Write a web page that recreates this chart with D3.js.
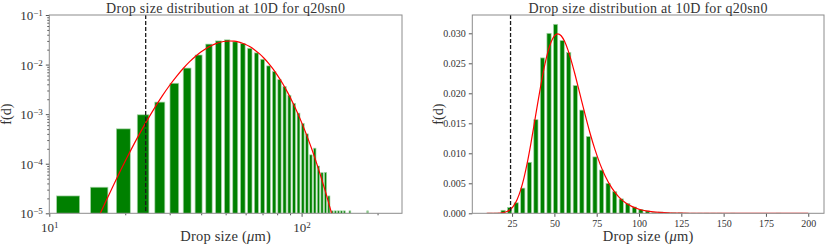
<!DOCTYPE html>
<html>
<head>
<meta charset="utf-8">
<script src="https://cdn.jsdelivr.net/npm/d3@7"></script>
<style>
  body { margin: 0; background: #fff; }
  text { font-family: "Liberation Serif", "Times New Roman", serif; fill: #333; }
  .frame { fill: none; stroke: #8c8c8c; stroke-width: 1; }
  .tick line { stroke: #555; }
</style>
</head>
<body>
<svg id="chart" width="830" height="250"></svg>
<script>
// histogram bins (centres, um) and normalised frequency f(d)
const binCenters = [
  11.94, 15.82, 19.69, 23.57, 27.45, 31.33, 35.20, 39.08, 42.96, 46.84,
  50.71, 54.59, 58.47, 62.35, 66.22, 70.10, 73.98, 77.86, 81.73, 85.61,
  89.49, 93.37, 97.24, 101.12, 105.00, 108.88, 112.76, 116.63, 120.51, 124.39,
  128.27, 132.14, 136.02, 139.90, 143.78, 147.65, 151.53, 155.41, 159.29, 163.16,
  167.04, 170.92, 174.80, 178.67, 182.55, 186.43, 190.31, 194.18, 198.06
];
const binFreq = [
  2.24e-5, 3.36e-5, 5.05e-4, 9.7e-4, 1.75e-3, 4.2e-3, 8.5e-3, 0.0156, 0.0259, 0.0300,
  0.0315, 0.0288, 0.0268, 0.0213, 0.0172, 0.0128, 0.0094, 0.0072, 0.0050, 0.0036,
  0.0024, 0.00165, 0.00105, 0.00065, 0.00040, 1.51e-4, 2.06e-4, 9.0e-5, 6.6e-5, 6.7e-5,
  2.24e-5, 1.12e-5, 1.12e-5, 1.12e-5, 1.12e-5, 1.12e-5, 0, 1.12e-5, 0, 0,
  0, 0, 0, 0, 1.12e-5, 0, 0, 0, 0
];

// fitted distribution
const fitSize = [
  10, 12, 14, 16, 18, 20, 22, 24, 26, 28, 30, 32, 34, 36, 38, 40, 42, 44, 46, 48,
  50, 52, 54, 56, 58, 60, 62, 65, 68, 71, 74, 77, 80, 84, 88, 92, 96, 100, 105, 110,
  115, 120, 125, 130, 135, 140, 150, 165, 180, 200
];
const fitFreq = [
  4.5e-8, 3.8e-7, 2.3e-6, 1.05e-5, 3.78e-5, 1.13e-4, 2.89e-4, 6.45e-4, 1.28e-3, 2.31e-3,
  3.83e-3, 5.87e-3, 8.44e-3, 0.01145, 0.01474, 0.01812, 0.02138, 0.02430, 0.02673, 0.02850,
  0.02957, 0.02992, 0.02959, 0.02866, 0.02723, 0.02541, 0.02334, 0.01998, 0.0166, 0.01343,
  0.01061, 8.20e-3, 6.22e-3, 4.19e-3, 2.75e-3, 1.76e-3, 1.107e-3, 6.83e-4, 3.65e-4, 1.91e-4,
  9.83e-5, 4.98e-5, 2.49e-5, 1.23e-5, 6.0e-6, 2.9e-6, 6.8e-7, 7.3e-8, 7.7e-9, 3.8e-10
];

const cutoffSize = 24.1;
const barWidth = 2.5;
const titleText = 'Drop size distribution at 10D for q20sn0';

const logYTicks = [1e-5, 1e-4, 1e-3, 1e-2, 1e-1];
const logYLabels = ['\u22125', '\u22124', '\u22123', '\u22122', '\u22121'];
const logXTicks = [10, 100];
const logXLabels = ['1', '2'];
const linYTicks = [0, 0.005, 0.010, 0.015, 0.020, 0.025, 0.030];
const linXTicks = [25, 50, 75, 100, 125, 150, 175, 200];

const svg = d3.select('#chart');
const points = fitSize.map((d, i) => [d, fitFreq[i]]);
const bars = binCenters.map((d, i) => ({ d, f: binFreq[i] }));

const drawPanel = (parent, props) => {
  const { id, left, right, top, bottom, xScale, yScale, log } = props;

  const g = parent.append('g').attr('class', id);

  g.append('clipPath').attr('id', 'clip-' + id)
    .append('rect')
      .attr('x', left).attr('y', top)
      .attr('width', right - left).attr('height', bottom - top);

  const plot = g.append('g').attr('clip-path', `url(#clip-${id})`);

  // bars
  plot.selectAll('.bar').data(bars.filter(b => b.f > 0))
    .enter().append('rect')
      .attr('class', 'bar')
      .attr('x', b => xScale(b.d - barWidth / 2))
      .attr('width', b => xScale(b.d + barWidth / 2) - xScale(b.d - barWidth / 2))
      .attr('y', b => yScale(b.f))
      .attr('height', b => bottom - yScale(b.f))
      .attr('fill', '#008000')
      .attr('stroke', '#a6d4a6')
      .attr('stroke-width', 0.7);

  // fitted curve
  const line = d3.line()
    .x(p => xScale(p[0]))
    .y(p => yScale(p[1]))
    .curve(d3.curveMonotoneX);
  plot.append('path')
    .datum(points)
    .attr('d', line)
    .attr('fill', 'none')
    .attr('stroke', '#ff0000')
    .attr('stroke-width', 1.2);

  // cut-off line
  plot.append('line')
    .attr('x1', xScale(cutoffSize)).attr('x2', xScale(cutoffSize))
    .attr('y1', top).attr('y2', bottom)
    .attr('stroke', '#1a1a1a')
    .attr('stroke-width', 1.3)
    .attr('stroke-dasharray', '4,2');

  // axes
  const xAxisG = g.append('g').attr('transform', `translate(0,${bottom})`);
  const yAxisG = g.append('g').attr('transform', `translate(${left},0)`);

  if (log) {
    const minorY = [];
    [1e-5, 1e-4, 1e-3, 1e-2].forEach(p => { for (let m = 2; m <= 9; m++) minorY.push(p * m); });
    const minorX = [20, 30, 40, 50, 60, 70, 80, 90, 200];

    yAxisG.append('g').call(d3.axisLeft(yScale).tickValues(minorY).tickSize(2).tickFormat(''));
    xAxisG.append('g').call(d3.axisBottom(xScale).tickValues(minorX).tickSize(2).tickFormat(''));

    const yMajor = yAxisG.append('g')
      .call(d3.axisLeft(yScale).tickValues(logYTicks).tickSize(3.5).tickPadding(3).tickFormat(''));
    yMajor.selectAll('.tick text').each(function (d, i) {
      const t = d3.select(this).attr('font-size', 13).attr('dy', '0.35em').attr('fill', '#333');
      t.append('tspan').text('10');
      t.append('tspan').attr('dy', '-0.45em').attr('font-size', 9).text(logYLabels[i]);
    });

    const xMajor = xAxisG.append('g')
      .call(d3.axisBottom(xScale).tickValues(logXTicks).tickSize(3.5).tickPadding(3).tickFormat(''));
    xMajor.selectAll('.tick text').each(function (d, i) {
      const t = d3.select(this).attr('font-size', 13).attr('dy', '0.95em').attr('fill', '#333');
      t.append('tspan').text('10');
      t.append('tspan').attr('dy', '-0.45em').attr('font-size', 9).text(logXLabels[i]);
    });
  } else {
    yAxisG.call(d3.axisLeft(yScale).tickValues(linYTicks).tickSize(3.5).tickPadding(3)
      .tickFormat(d3.format('.3f')));
    xAxisG.call(d3.axisBottom(xScale).tickValues(linXTicks).tickSize(3.5).tickPadding(3)
      .tickFormat(d3.format('d')));
    g.selectAll('.tick text').attr('font-size', 10).attr('fill', '#333');
  }
  g.selectAll('.domain').remove();
  g.selectAll('.tick line').attr('stroke', '#555');

  // frame
  g.append('rect')
    .attr('class', 'frame')
    .attr('x', left).attr('y', top)
    .attr('width', right - left).attr('height', bottom - top);

  // titles
  g.append('text')
    .attr('x', (left + right) / 2)
    .attr('y', 12.5)
    .attr('text-anchor', 'middle')
    .attr('font-size', 14)
    .attr('letter-spacing', 0.3)
    .text(titleText);

  const xTitle = g.append('text')
    .attr('x', (left + right) / 2)
    .attr('y', 241)
    .attr('text-anchor', 'middle')
    .attr('font-size', 14.5)
    .attr('letter-spacing', 0.2);
  xTitle.append('tspan').text('Drop size (');
  xTitle.append('tspan').attr('font-style', 'italic').text('\u03bc');
  xTitle.append('tspan').text('m)');

  g.append('text')
    .attr('transform', `translate(${props.yTitleX},${(top + bottom) / 2}) rotate(-90)`)
    .attr('text-anchor', 'middle')
    .attr('font-size', 14)
    .text('f(d)');
};

const plotTop = 15, plotBottom = 213.3;

drawPanel(svg, {
  id: 'logplot',
  left: 49.3, right: 402, top: plotTop, bottom: plotBottom,
  xScale: d3.scaleLog().domain([10, 250]).range([49.3, 402]),
  yScale: d3.scaleLog().domain([1e-5, 1e-1]).range([plotBottom, plotTop]),
  log: true,
  yTitleX: 11
});

drawPanel(svg, {
  id: 'linplot',
  left: 472.3, right: 824, top: plotTop, bottom: plotBottom,
  xScale: d3.scaleLinear().domain([1.5, 209.3]).range([472.3, 824]),
  yScale: d3.scaleLinear().domain([0, 0.03305]).range([plotBottom, plotTop]),
  log: false,
  yTitleX: 443
});
</script>
</body>
</html>
